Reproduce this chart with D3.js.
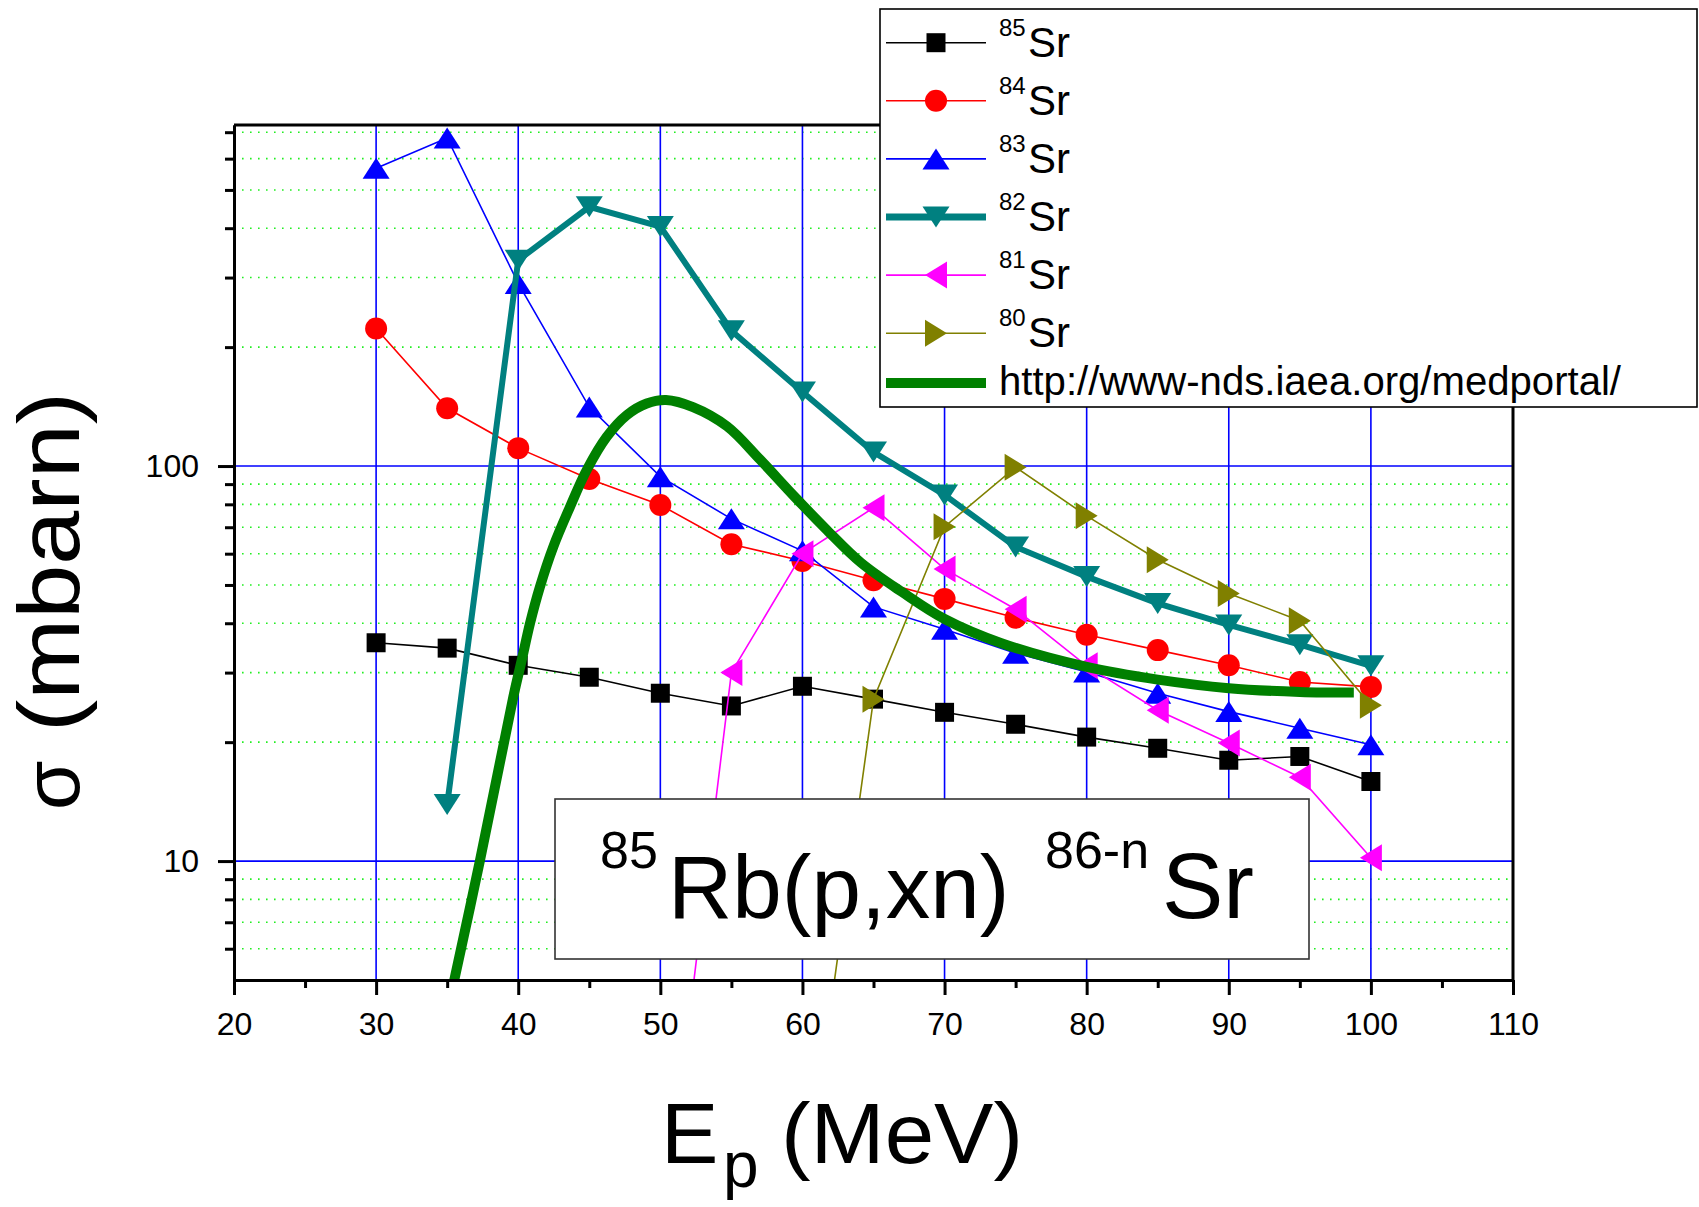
<!DOCTYPE html>
<html><head><meta charset="utf-8">
<script src="https://cdn.jsdelivr.net/npm/d3@7"></script>
<style>
body{margin:0;background:#fff}
svg{display:block}
text{font-family:"Liberation Sans",Arial,Helvetica,sans-serif;fill:#000}
</style>
</head><body>
<svg id="chart" width="1699" height="1207"></svg>
<script>
// ---------- data ----------
const energies = [30,35,40,45,50,55,60,65,70,75,80,85,90,95,100];
const sr85 = [35.7,34.6,31.3,29.2,26.6,24.7,27.7,25.7,23.8,22.2,20.6,19.3,18.0,18.4,15.9];
const sr84 = [223,140,111,92.7,79.7,63.4,57.5,51.4,46.1,41.3,37.4,34.2,31.3,28.4,27.6];
const sr83 = [567,677,290,141,94,73.5,61,44,38.6,33.6,30.1,26.6,23.9,21.7,19.7];
const sr82E = [35,40,45,50,55,60,65,70,75,80,85,90,95,100];
const sr82 = [13.9,332,453,404,220,154,108.5,84.5,62.4,52.5,44.9,39.6,35.3,31.2];
const sr81E = [50,55,60,65,70,75,80,85,90,95,100];
const sr81 = [1.0,30,60,78.4,54.9,43.4,31.2,24.1,19.9,16.3,10.2];
const sr80E = [60,65,70,75,80,85,90,95,100];
const sr80 = [1.3,25.7,70.2,99.3,74.8,57.9,47.6,40.6,24.8];
const medE = [35.5,37.3,39.66,40.25,40.83,41.53,42.47,43.65,44.82,46.23,47.64,49.04,50.4,52.3,54.7,57,59.4,61.7,64.1,67,70,74,80,85,90,95,98.8];
const medV = [5,10,26.1,32.3,40,49.5,62.5,78.9,97.7,118.6,134.6,144,147,141,126,104,84,69,57,48,41,35.6,31,28.8,27.4,26.8,26.7];
const massNumbers = ["85","84","83","82","81","80"];
const urlLabel = "http://www-nds.iaea.org/medportal/";
const xTicksMajor = [20,30,40,50,60,70,80,90,100,110];
const xTicksMinor = [25,35,45,55,65,75,85,95,105];
const yTicksMajor = [10,100];
const yTicksMinor = [6,7,8,9,20,30,40,50,60,70,80,90,200,300,400,500,600,700];

// ---------- layout ----------
const svg = d3.select("#chart");
const L = 234, R = 1513, T = 125, B = 980;
const x = d3.scaleLinear().domain([20,110]).range([L,R]);
const y = d3.scaleLog().domain([5,730]).range([B,T]);

svg.append("rect").attr("width",1699).attr("height",1207).attr("fill","#fff");

svg.append("defs").append("clipPath").attr("id","clip")
  .append("rect").attr("x",L).attr("y",T).attr("width",R-L).attr("height",B-T);

// grid
const grid = svg.append("g");
grid.selectAll(".gm").data(yTicksMinor).join("line")
  .attr("x1",L).attr("x2",R).attr("y1",d=>y(d)).attr("y2",d=>y(d))
  .attr("stroke","#22ee22").attr("stroke-width",1.6).attr("stroke-dasharray","1.6,6.4");
grid.selectAll(".gx").data(xTicksMajor.filter(d=>d>20&&d<110)).join("line")
  .attr("x1",d=>x(d)).attr("x2",d=>x(d)).attr("y1",T).attr("y2",B)
  .attr("stroke","#0000ff").attr("stroke-width",1.6);
grid.selectAll(".gy").data(yTicksMajor).join("line")
  .attr("x1",L).attr("x2",R).attr("y1",d=>y(d)).attr("y2",d=>y(d))
  .attr("stroke","#0000ff").attr("stroke-width",1.6);

// markers
function markerPath(type){
  const s=19, w=27, h=21, lw=22, lh=27;
  switch(type){
    case "square": return `M${-s/2},${-s/2}h${s}v${s}h${-s}Z`;
    case "circle": return d3.symbol(d3.symbolCircle, Math.PI*11*11)();
    case "up": return `M0,${-h/2}L${w/2},${h/2}L${-w/2},${h/2}Z`;
    case "down": return `M0,${h/2}L${w/2},${-h/2}L${-w/2},${-h/2}Z`;
    case "left": return `M${-lw/2},0L${lw/2},${-lh/2}L${lw/2},${lh/2}Z`;
    case "right": return `M${lw/2},0L${-lw/2},${-lh/2}L${-lw/2},${lh/2}Z`;
  }
}

const series = [
  {E:energies, V:sr85, color:"#000000", lw:1.6, m:"square"},
  {E:energies, V:sr84, color:"#ff0000", lw:1.6, m:"circle"},
  {E:energies, V:sr83, color:"#0000ff", lw:1.6, m:"up"},
  {E:sr82E, V:sr82, color:"#008080", lw:6, m:"down"},
  {E:sr81E, V:sr81, color:"#ff00ff", lw:1.6, m:"left"},
  {E:sr80E, V:sr80, color:"#808000", lw:1.6, m:"right"}
];

const plot = svg.append("g").attr("clip-path","url(#clip)");
const line = d3.line().x(d=>x(d[0])).y(d=>y(d[1]));
series.forEach(s=>{
  const pts = s.E.map((e,i)=>[e,s.V[i]]);
  const g = plot.append("g");
  g.append("path").attr("d",line(pts)).attr("fill","none")
    .attr("stroke",s.color).attr("stroke-width",s.lw).attr("stroke-linejoin","miter");
  g.selectAll("path.mk").data(pts).join("path").attr("class","mk")
    .attr("transform",d=>`translate(${x(d[0])},${y(d[1])})`)
    .attr("d",markerPath(s.m)).attr("fill",s.color);
});
const medPts = medE.map((e,i)=>[e,medV[i]]);
plot.append("path").attr("d",d3.line().x(d=>x(d[0])).y(d=>y(d[1])).curve(d3.curveCatmullRom.alpha(0.5))(medPts))
  .attr("fill","none").attr("stroke","#008000").attr("stroke-width",10).attr("stroke-linecap","butt");

// axes
const fs = 32;
const xMaj = d3.axisBottom(x).tickValues(xTicksMajor).tickSize(15).tickPadding(17).tickSizeOuter(0).tickFormat(d3.format("d"));
const xMin = d3.axisBottom(x).tickValues(xTicksMinor).tickSize(8).tickSizeOuter(0).tickFormat("");
const yMaj = d3.axisLeft(y).tickValues(yTicksMajor).tickSize(16).tickPadding(19).tickSizeOuter(0).tickFormat(d3.format("d"));
const yMin = d3.axisLeft(y).tickValues(yTicksMinor).tickSize(9).tickSizeOuter(0).tickFormat("");
function styleAxis(g){
  g.selectAll("path.domain").attr("stroke","#000").attr("stroke-width",3);
  g.selectAll("line").attr("stroke","#000").attr("stroke-width",3);
  g.selectAll("text").attr("font-size",fs).attr("font-family",'"Liberation Sans",Arial,sans-serif').attr("fill","#000");
}
svg.append("g").attr("transform",`translate(0,${B})`).call(xMin).call(styleAxis);
svg.append("g").attr("transform",`translate(0,${B})`).call(xMaj).call(styleAxis);
svg.append("g").attr("transform",`translate(${L},0)`).call(yMin).call(styleAxis);
svg.append("g").attr("transform",`translate(${L},0)`).call(yMaj).call(styleAxis);
svg.append("line").attr("x1",L).attr("x2",R+1.5).attr("y1",T).attr("y2",T).attr("stroke","#000").attr("stroke-width",3);
svg.append("line").attr("x1",R).attr("x2",R).attr("y1",T).attr("y2",B+1.5).attr("stroke","#000").attr("stroke-width",3);

// axis titles
svg.append("text").attr("transform","translate(79,810) rotate(-90)").attr("text-anchor","start")
  .attr("font-size",80).text("σ");
svg.append("text").attr("transform","translate(79,732) rotate(-90)").attr("text-anchor","start")
  .attr("font-size",88).attr("textLength",340).attr("lengthAdjust","spacingAndGlyphs").text("(mbarn)");
const xt = svg.append("g");
xt.append("text").attr("x",661).attr("y",1163).attr("font-size",86).text("E");
xt.append("text").attr("x",723).attr("y",1187).attr("font-size",64).text("p");
xt.append("text").attr("x",781).attr("y",1163).attr("font-size",86)
  .attr("textLength",242).attr("lengthAdjust","spacingAndGlyphs").text("(MeV)");

// annotation box
const ab = svg.append("g");
ab.append("rect").attr("x",555).attr("y",799).attr("width",754).attr("height",160)
  .attr("fill","#fff").attr("stroke","#333").attr("stroke-width",1.6);
ab.append("text").attr("x",600).attr("y",868).attr("font-size",52).text("85");
ab.append("text").attr("x",668).attr("y",918).attr("font-size",89).text("Rb(p,xn)");
ab.append("text").attr("x",1045).attr("y",868).attr("font-size",52).text("86-n");
ab.append("text").attr("x",1162).attr("y",918).attr("font-size",92).text("Sr");

// legend
const lg = svg.append("g");
lg.append("rect").attr("x",880).attr("y",9).attr("width",817).attr("height",398)
  .attr("fill","#fff").attr("stroke","#000").attr("stroke-width",1.6);
const rowY = i => 42.7 + 58.1*i;
series.forEach((s,i)=>{
  const cy = rowY(i);
  lg.append("line").attr("x1",886).attr("x2",986).attr("y1",cy).attr("y2",cy)
    .attr("stroke",s.color).attr("stroke-width",s.lw===6?7:1.6);
  lg.append("path").attr("transform",`translate(936,${cy})`).attr("d",markerPath(s.m)).attr("fill",s.color);
  lg.append("text").attr("x",999).attr("y",cy-7).attr("font-size",24).text(massNumbers[i]);
  lg.append("text").attr("x",1028).attr("y",cy+14).attr("font-size",42).text("Sr");
});
lg.append("line").attr("x1",886).attr("x2",986).attr("y1",383).attr("y2",383)
  .attr("stroke","#008000").attr("stroke-width",10);
lg.append("text").attr("x",999).attr("y",395).attr("font-size",40)
  .attr("textLength",622).attr("lengthAdjust","spacingAndGlyphs").text(urlLabel);
</script>
</body></html>
